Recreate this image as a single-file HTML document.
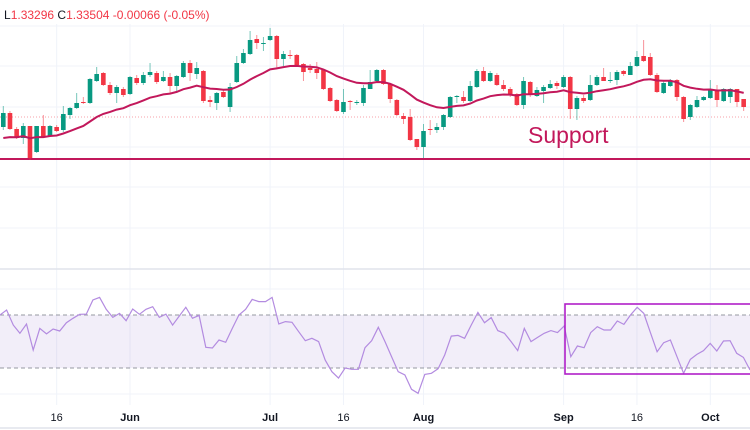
<!DOCTYPE html>
<html><head><meta charset="utf-8"><style>
html,body{margin:0;padding:0;background:#fff;}
svg{display:block;font-family:"Liberation Sans",sans-serif;}
</style></head><body>
<svg id="chart" width="750" height="430" viewBox="0 0 750 430" xmlns="http://www.w3.org/2000/svg">
<g id="grid"></g>
<g id="rsiPane"></g>
<g id="pricePane"></g>
<g id="axis"></g>
<text x="4" y="19" font-size="12"><tspan fill="#131722">L</tspan><tspan fill="#f23645">1.33296 </tspan><tspan fill="#131722">C</tspan><tspan fill="#f23645">1.33504 -0.00066 (-0.05%)</tspan></text>
<text x="528" y="143" font-size="23" fill="#c2185b">Support</text>
</svg>
<script>
const opens=[1.2932,1.2946,1.2930,1.2921,1.2933,1.2907,1.2933,1.2923,1.2932,1.2929,1.2944,1.2951,1.2957,1.2956,1.2978,1.2986,1.2974,1.2966,1.2970,1.2965,1.2981,1.2976,1.2984,1.2986,1.2978,1.2982,1.2973,1.2982,1.2996,1.2985,1.2988,1.2959,1.2956,1.2967,1.2952,1.2977,1.2996,1.3005,1.3020,1.3015,1.3019,1.3023,1.3000,1.3004,1.3004,1.2995,1.2991,1.2990,1.2989,1.2971,1.2959,1.2947,1.2958,1.2956,1.2956,1.2970,1.2978,1.2989,1.2975,1.2959,1.2943,1.2942,1.2920,1.2912,1.2930,1.2929,1.2932,1.2942,1.2962,1.2962,1.2958,1.2972,1.2988,1.2978,1.2984,1.2974,1.2970,1.2965,1.2954,1.2977,1.2963,1.2968,1.2971,1.2976,1.2972,1.2982,1.2950,1.2961,1.2959,1.2974,1.2982,1.2978,1.2979,1.2988,1.2984,1.2993,1.3003,1.3002,1.2984,1.2966,1.2973,1.2979,1.2962,1.2942,1.2952,1.2959,1.2961,1.2969,1.2958,1.2962,1.2970,1.2960];
const highs=[1.2953,1.2948,1.2932,1.2936,1.2933,1.2933,1.2944,1.2934,1.2934,1.2953,1.2952,1.2966,1.2962,1.2981,1.2992,1.2987,1.2977,1.2974,1.2972,1.2983,1.2984,1.2987,1.2996,1.2988,1.2988,1.2986,1.2984,1.2998,1.2999,1.2997,1.2989,1.2963,1.2967,1.2970,1.2976,1.3003,1.3010,1.3028,1.3024,1.3022,1.3031,1.3024,1.3008,1.3009,1.3005,1.2996,1.2995,1.2997,1.2990,1.2972,1.2960,1.2970,1.2959,1.2959,1.2974,1.2989,1.2990,1.2990,1.2976,1.2960,1.2946,1.2950,1.2920,1.2935,1.2939,1.2936,1.2945,1.2963,1.2964,1.2968,1.2978,1.2990,1.2992,1.2988,1.2986,1.2979,1.2972,1.2966,1.2982,1.2978,1.2972,1.2974,1.2979,1.2978,1.2984,1.2983,1.2963,1.2964,1.2984,1.2984,1.2991,1.2987,1.2989,1.2989,1.2997,1.3008,1.3019,1.3006,1.2986,1.2978,1.2980,1.2980,1.2963,1.2955,1.2963,1.2963,1.2979,1.2974,1.2971,1.2971,1.2970,1.2960];
const lows=[1.2929,1.2929,1.2920,1.2915,1.2899,1.2906,1.2921,1.2922,1.2927,1.2927,1.2940,1.2950,1.2955,1.2955,1.2977,1.2973,1.2964,1.2956,1.2962,1.2964,1.2974,1.2974,1.2982,1.2975,1.2977,1.2966,1.2966,1.2981,1.2978,1.2980,1.2956,1.2952,1.2949,1.2961,1.2947,1.2976,1.2995,1.3004,1.3010,1.3008,1.3018,1.2991,1.2993,1.3000,1.2992,1.2978,1.2986,1.2980,1.2969,1.2957,1.2947,1.2945,1.2949,1.2954,1.2953,1.2970,1.2977,1.2974,1.2956,1.2943,1.2935,1.2918,1.2909,1.2901,1.2924,1.2926,1.2929,1.2941,1.2956,1.2956,1.2957,1.2971,1.2977,1.2977,1.2973,1.2968,1.2962,1.2953,1.2950,1.2962,1.2962,1.2956,1.2970,1.2970,1.2971,1.2940,1.2939,1.2956,1.2958,1.2973,1.2978,1.2976,1.2974,1.2983,1.2984,1.2992,1.2997,1.2983,1.2966,1.2965,1.2972,1.2958,1.2937,1.2939,1.2951,1.2958,1.2960,1.2952,1.2957,1.2956,1.2952,1.2948];
const closes=[1.2946,1.2930,1.2921,1.2933,1.2901,1.2933,1.2922,1.2933,1.2928,1.2945,1.2951,1.2956,1.2956,1.2980,1.2985,1.2974,1.2966,1.2972,1.2964,1.2982,1.2976,1.2984,1.2987,1.2977,1.2982,1.2973,1.2983,1.2996,1.2986,1.2991,1.2958,1.2957,1.2966,1.2962,1.2972,1.2996,1.3006,1.3019,1.3016,1.3016,1.3023,1.3000,1.3005,1.3003,1.2994,1.2987,1.2989,1.2986,1.2970,1.2958,1.2948,1.2957,1.2957,1.2957,1.2971,1.2977,1.2989,1.2975,1.2960,1.2944,1.2940,1.2919,1.2912,1.2928,1.2929,1.2932,1.2944,1.2962,1.2963,1.2958,1.2973,1.2988,1.2978,1.2986,1.2974,1.2970,1.2964,1.2954,1.2978,1.2964,1.2969,1.2972,1.2975,1.2973,1.2982,1.2950,1.2961,1.2958,1.2974,1.2982,1.2978,1.2979,1.2987,1.2985,1.2993,1.3002,1.2998,1.2984,1.2967,1.2976,1.2978,1.2962,1.2940,1.2954,1.2959,1.2962,1.2970,1.2959,1.2970,1.2970,1.2957,1.2952];
const rsiValues=[70,73.8,62.4,56.2,63.2,43.6,59.9,55.7,59.4,57.9,64.2,67.5,70.5,70.7,81.3,83.3,74.3,68.2,71.2,65.7,74.5,70.5,74.3,76.3,68.2,70.7,62.4,69.2,75.8,67.5,69.7,45.6,45.1,51.1,49.4,59.9,70,74.3,81.8,80.1,80.1,83.3,63.2,65,64.5,57.4,50.6,52.4,49.9,36,27.2,22.4,30,29,29,45.3,50.6,60.7,49.9,38.5,27.2,24.7,13.9,10.9,25.2,26,29.5,39.8,54.1,54.6,52.4,62.4,72,64.2,68,58.2,56.2,49.9,43.1,59.9,49.9,53.1,56.2,58.2,56.7,61.7,38.5,46.6,45.3,56.7,61.2,58.7,58.7,65.5,62.9,70,75.8,71.2,56.7,42.3,49.1,51.1,38.5,26,36.5,40.3,43.1,48.6,42.8,50.4,50.6,41.1,38,28.5];
const tickLabels=["16","Jun","Jul","16","Aug","Sep","16","Oct"];
const tickBars=[8,19,40,51,63,84,95,106];
const tickBold=[false,true,true,false,true,true,false,true];
const supportLevel=1.2900;
const dottedLevel=1.2942;
const rsiUpper=70, rsiLower=30;

const NS="http://www.w3.org/2000/svg";
function mk(tag,attrs,parent){const e=document.createElementNS(NS,tag);for(const k in attrs)e.setAttribute(k,attrs[k]);parent.appendChild(e);return e;}
const xBar=i=>3.3+i*6.67;
const yP=p=>159-(p-1.29)*10000;
const xR=i=>i*750/(rsiValues.length-1);
const yR=r=>315+(70-r)*1.325;

const grid=document.getElementById('grid');
[26,66,107,147,187,228,289,394].forEach(y=>{const l=mk('line',{x1:0,x2:750,y1:y,y2:y,stroke:'#f0f3fa','stroke-width':1},grid);});
tickBars.forEach(b=>{const l=mk('line',{x1:xBar(b),x2:xBar(b),y1:24,y2:405,stroke:'#f0f3fa','stroke-width':1},grid);});
const sep=mk('line',{x1:0,x2:750,y1:269,y2:269,stroke:'#e0e3eb','stroke-width':1.5},grid);


const bot=mk('line',{x1:0,x2:750,y1:428,y2:428,stroke:'#e0e3eb','stroke-width':1.5},grid);



// price pane
const pp=document.getElementById('pricePane');
const dl=mk('line',{x1:0,x2:750,y1:yP(dottedLevel),y2:yP(dottedLevel),stroke:'#f7a1a8','stroke-width':1,'stroke-dasharray':'1 2'},pp);


const sl=mk('line',{x1:0,x2:750,y1:yP(supportLevel),y2:yP(supportLevel),stroke:'#c2185b','stroke-width':2},pp);


for(let i=0;i<opens.length;i++){
  const up=closes[i]>=opens[i];
  const col=up?'#089981':'#f23645';
  const g=mk('g',{},pp);
  
  
  const x=xBar(i);
  mk('line',{x1:x,x2:x,y1:yP(highs[i]),y2:yP(lows[i]),stroke:col,'stroke-width':1,'stroke-opacity':0.55},g);
  const top=yP(Math.max(opens[i],closes[i])),bt=yP(Math.min(opens[i],closes[i]));
  mk('rect',{x:x-2.3,y:top,width:4.6,height:Math.max(1,bt-top),fill:col},g);
}
// EMA 20
const alpha=2/21;let ema=1.2921;const ma=[];
for(let i=0;i<closes.length;i++){ema=i===0?ema:ema+alpha*(closes[i]-ema);ma.push(ema);}
const maP=mk('polyline',{points:ma.map((v,i)=>xBar(i).toFixed(1)+','+yP(v).toFixed(1)).join(' '),fill:'none',stroke:'#c2185b','stroke-width':2},pp);



// RSI pane
const rp=document.getElementById('rsiPane');
const band=mk('rect',{x:0,y:yR(rsiUpper),width:750,height:yR(rsiLower)-yR(rsiUpper),fill:'#7e57c2','fill-opacity':0.1},rp);


[rsiUpper,rsiLower].forEach(v=>{const l=mk('line',{x1:0,x2:750,y1:yR(v),y2:yR(v),stroke:'#9598a1','stroke-width':1,'stroke-dasharray':'4 3'},rp);});
const rl=mk('polyline',{points:rsiValues.map((v,i)=>xR(i).toFixed(1)+','+yR(v).toFixed(1)).join(' '),fill:'none',stroke:'#b38be0','stroke-width':1.2},rp);


const box=mk('rect',{x:565,y:304,width:190,height:70,fill:'none',stroke:'#b01fc8','stroke-width':1.6},rp);



// axis
const ax=document.getElementById('axis');
tickLabels.forEach((t,i)=>{const e=mk('text',{x:xBar(tickBars[i]),y:421,'font-size':11,'text-anchor':'middle',fill:'#131722','font-weight':tickBold[i]?'bold':'normal'},ax);e.textContent=t;});
</script>
</body></html>
